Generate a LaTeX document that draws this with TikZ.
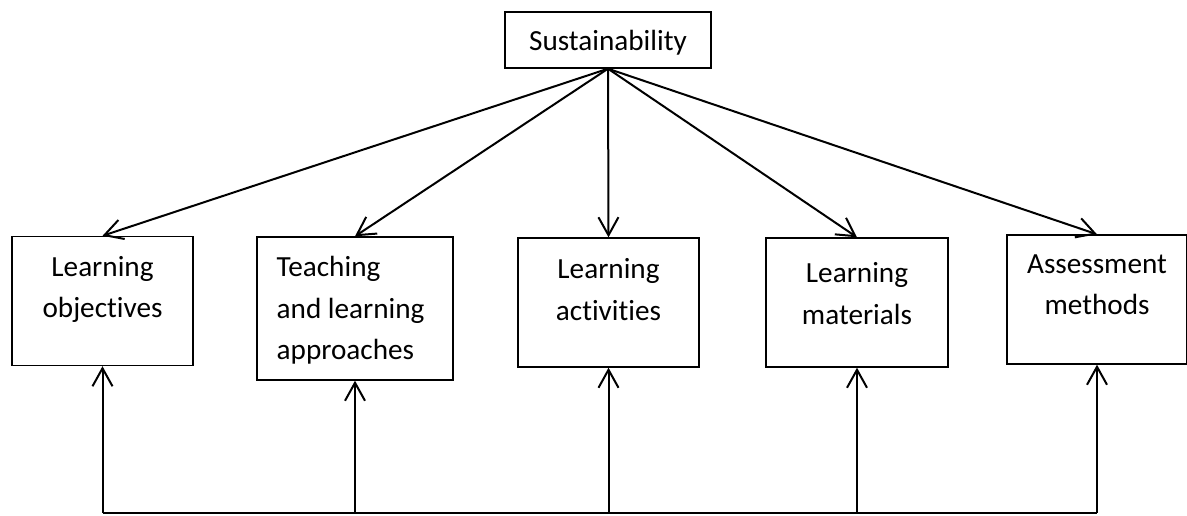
\documentclass[tikz,border=0pt]{standalone}
\usepackage{fontspec}
\setmainfont{Carlito}[Ligatures=NoCommon]
\usetikzlibrary{arrows.meta,positioning}

\begin{document}
\begin{tikzpicture}[
    x=0.5pt,y=0.5pt,
    font=\fontsize{14.6}{20.75}\selectfont,
    topbox/.style={draw,line width=0.7pt,minimum width=103pt,minimum height=28pt,inner sep=0pt,text depth=0pt},
    partbox/.style={draw,line width=0.7pt,minimum width=90.5pt,minimum height=64.5pt,inner sep=0pt},
    txt/.style={anchor=north,align=center,inner sep=0pt,yshift=-10pt},
    arrow/.style={-{Straight Barb[length=9pt,width=10pt]},line width=1pt}
  ]
    \useasboundingbox (0,0) rectangle (1187,515);
    \node[topbox] (sus) at (608,475) {Sustainability};
    \node[partbox,label={[txt]north:Learning\\objectives}] (obj) at (102.5,214) {};
    \node[partbox,minimum width=98pt,minimum height=71.5pt,
          label={[txt,anchor=north west,align=left,xshift=10pt]north west:Teaching\\and learning\\approaches}] (appr) at (355,206.5) {};
    \node[partbox,label={[txt,yshift=-0.5pt]north:Learning\\activities}] (act) at (608.5,212.5) {};
    \node[partbox,minimum width=91pt,label={[txt,yshift=-2.5pt]north:Learning\\materials}] (mat) at (857,212.5) {};
    \node[partbox,minimum width=90pt,label={[txt]north:Assessment\\methods}] (assess) at (1097,215.5) {};
    \coordinate (base) at (0,2);
    \draw[line width=0.6pt] (obj.south |- base) -- (assess.south |- base);
    \foreach \n in {obj,appr,act,mat,assess} {
      \draw[arrow] (sus.south) -- (\n.north);
      \draw[arrow] (\n.south |- base) -- (\n.south);
    }
  \end{tikzpicture}
\end{document}
